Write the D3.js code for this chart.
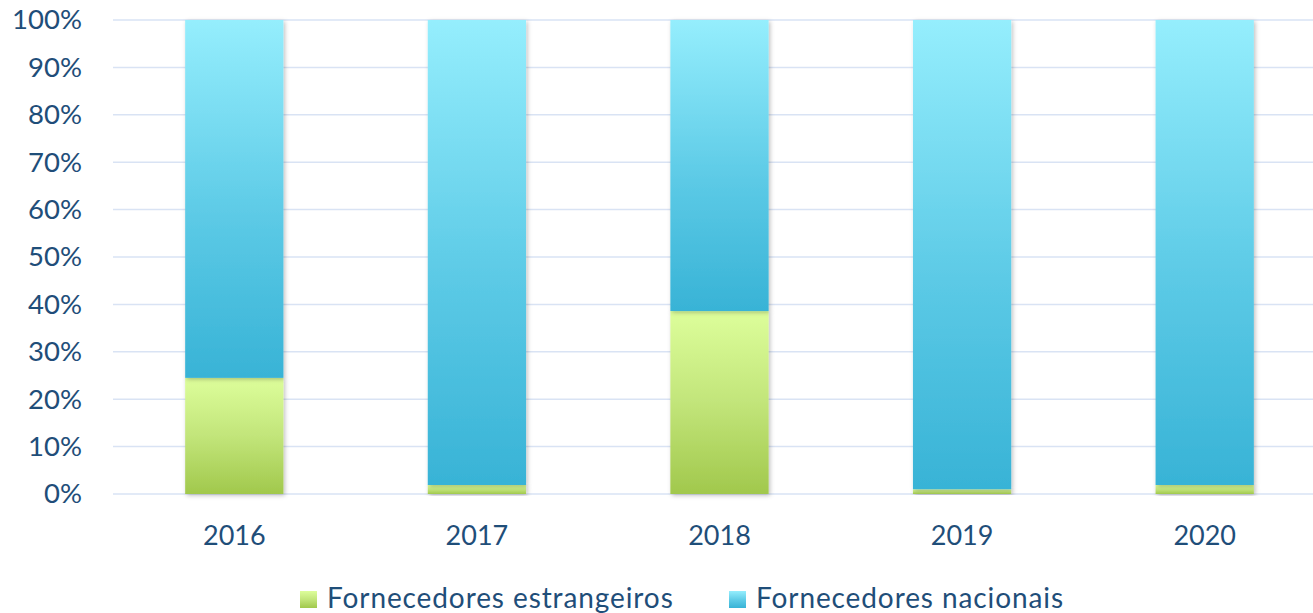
<!DOCTYPE html>
<html>
<head>
<meta charset="utf-8">
<script src="https://cdn.jsdelivr.net/npm/d3@7"></script>
<style>
  body { margin: 0; background: #fff; }
  text { font-family: Lato, "Open Sans", sans-serif; fill: #1f4e79; }
</style>
</head>
<body>
<svg width="1313" height="613"></svg>
<script>
const svg = d3.select('svg');
const width = +svg.attr('width');
const height = +svg.attr('height');

// data (share of purchases, %)
const years = ['2016', '2017', '2018', '2019', '2020'];
const estrangeiros = [24.5, 1.9, 38.6, 1.0, 1.9];
const nacionais = [75.5, 98.1, 61.4, 99.0, 98.1];
const seriesNames = ['Fornecedores estrangeiros', 'Fornecedores nacionais'];
const yTicks = [0, 10, 20, 30, 40, 50, 60, 70, 80, 90, 100];

const margin = {top: 20, right: -13, bottom: 119, left: 113};
const innerwidth = width - margin.left - margin.right;
const innerheight = height - margin.top - margin.bottom;

const defs = svg.append('defs');

function grad(id, stops) {
    const lg = defs.append('linearGradient')
        .attr('id', id)
        .attr('x1', 0).attr('y1', 0).attr('x2', 0).attr('y2', 1);
    stops.forEach(s => lg.append('stop').attr('offset', s[0]).attr('stop-color', s[1]));
}
grad('gGreen', [[0, '#ddfe9b'], [0.5, '#c2e57a'], [1, '#a1c84c']]);
grad('gBlue', [[0, '#95eefd'], [0.55, '#5ccae6'], [1, '#38b3d6']]);

const shadow = defs.append('filter').attr('id', 'shadow')
    .attr('x', '-10%').attr('y', '-10%').attr('width', '130%').attr('height', '130%');
shadow.append('feDropShadow')
    .attr('dx', 1.5).attr('dy', 1.5).attr('stdDeviation', 2)
    .attr('flood-color', '#000').attr('flood-opacity', 0.25);

const fills = ['url(#gGreen)', 'url(#gBlue)'];

const g = svg.append('g')
    .attr('transform', 'translate(' + margin.left + ',' + margin.top + ')');

const xscale = d3.scaleBand()
    .domain(years)
    .range([0, innerwidth])
    .paddingInner(0.595)
    .paddingOuter(0.2975);

const yscale = d3.scaleLinear()
    .domain([0, 100])
    .range([innerheight, 0]);

// gridlines
g.append('g')
    .selectAll('line')
    .data(yTicks)
    .enter()
    .append('line')
    .attr('x1', 0)
    .attr('x2', innerwidth)
    .attr('y1', d => yscale(d))
    .attr('y2', d => yscale(d))
    .attr('stroke', '#d9e3f4')
    .attr('stroke-width', 1.5);

// y axis labels
const yaxisG = g.append('g').call(d3.axisLeft(yscale)
    .tickValues(yTicks)
    .tickSize(0)
    .tickPadding(31)
    .tickFormat(d => d + '%'));
yaxisG.select('.domain').remove();
yaxisG.selectAll('text')
    .style('font-size', '27.5px')
    .attr('fill', '#1f4e79');

// x axis labels
const xaxisG = g.append('g')
    .attr('transform', 'translate(0,' + innerheight + ')')
    .call(d3.axisBottom(xscale).tickSize(0).tickPadding(32));
xaxisG.select('.domain').remove();
xaxisG.selectAll('text')
    .style('font-size', '27px')
    .attr('fill', '#1f4e79');

// stacked bars
const table = years.map((y, i) => ({year: y, a: estrangeiros[i], b: nacionais[i]}));
const stacked = d3.stack().keys(['a', 'b'])(table);

const layers = g.selectAll('.layer')
    .data(stacked)
    .enter()
    .append('g')
    .attr('class', 'layer')
    .attr('fill', (d, i) => fills[i]);

layers.selectAll('rect')
    .data(d => d)
    .enter()
    .append('rect')
    .attr('x', d => xscale(d.data.year))
    .attr('width', xscale.bandwidth())
    .attr('y', d => yscale(d[1]))
    .attr('height', d => yscale(d[0]) - yscale(d[1]))
    .attr('filter', 'url(#shadow)');

// legend
const legend = svg.append('g')
    .attr('transform', 'translate(0,' + (height - 5) + ')');
const legendX = [300, 729];
seriesNames.forEach((name, i) => {
    const item = legend.append('g').attr('transform', 'translate(' + legendX[i] + ',0)');
    item.append('rect')
        .attr('x', 0).attr('y', -17)
        .attr('width', 17).attr('height', 17)
        .attr('fill', fills[i]);
    item.append('text')
        .attr('x', 27)
        .attr('y', 0)
        .style('font-size', '28px')
        .style('letter-spacing', '0.9px')
        .text(name);
});
</script>
</body>
</html>
